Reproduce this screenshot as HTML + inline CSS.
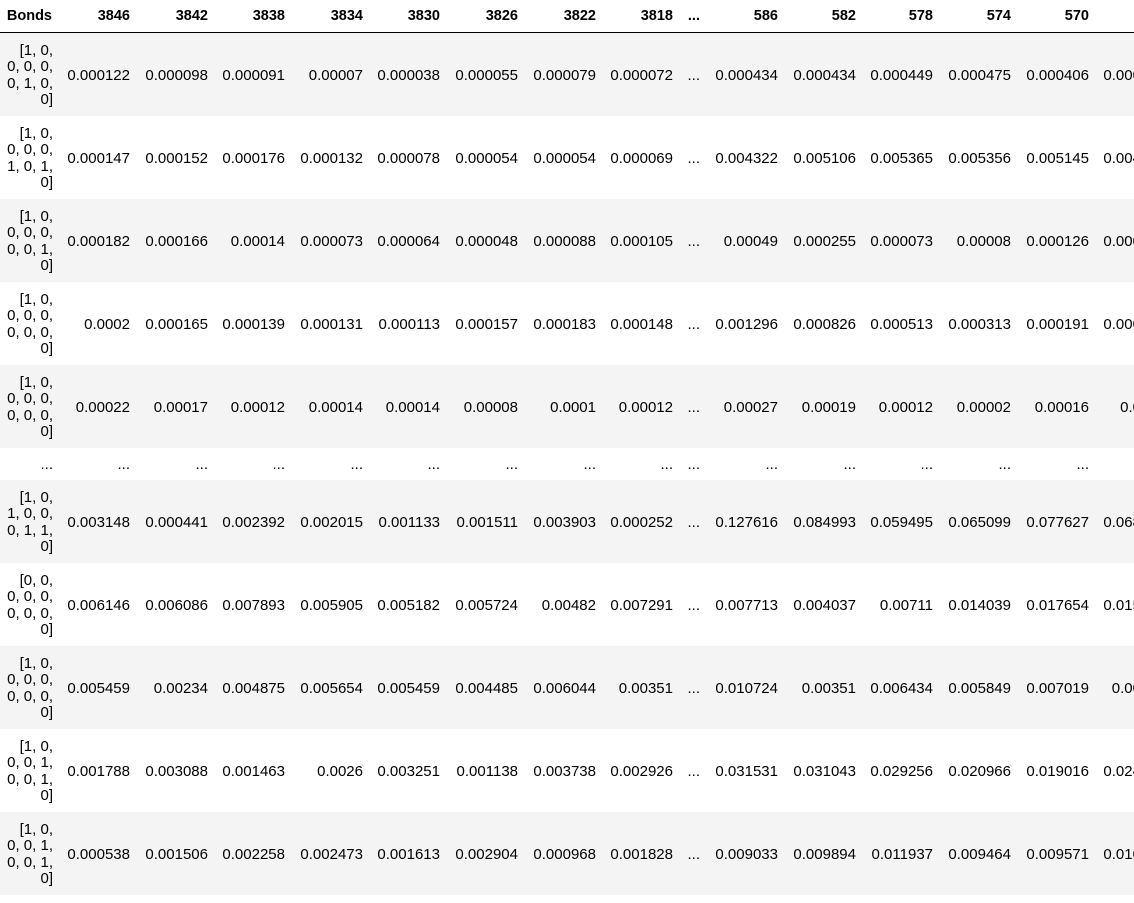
<!DOCTYPE html>
<html><head><meta charset="utf-8">
<style>
body{margin:0;width:1134px;height:903px;overflow:hidden;background:#fff;font-family:"Liberation Sans",Arial,sans-serif;color:#000;position:relative}
.c{position:absolute;white-space:nowrap;text-align:right;font-size:15px}
.h{font-weight:bold;font-size:14.5px}
.row{position:absolute;left:0;width:1134px}
.idx{position:absolute;text-align:right;font-size:15px;line-height:16.5px;right:0}
</style></head>
<body>
<div id="hline" style="position:absolute;left:0;top:32px;width:1134px;height:1px;background:#000"></div>
<script>
const headers=["3846","3842","3838","3834","3830","3826","3822","3818","...","586","582","578","574","570",""];
const rights=[130,208,285,363,440,518,596,673,700,778,856,933,1011,1089,1166];
const indexLabels=[
"[1, 0,|0, 0, 0,|0, 1, 0,|0]","[1, 0,|0, 0, 0,|1, 0, 1,|0]","[1, 0,|0, 0, 0,|0, 0, 1,|0]","[1, 0,|0, 0, 0,|0, 0, 0,|0]","[1, 0,|0, 0, 0,|0, 0, 0,|0]",
null,
"[1, 0,|1, 0, 0,|0, 1, 1,|0]","[0, 0,|0, 0, 0,|0, 0, 0,|0]","[1, 0,|0, 0, 0,|0, 0, 0,|0]","[1, 0,|0, 0, 1,|0, 0, 1,|0]","[1, 0,|0, 0, 1,|0, 0, 1,|0]"];
const values=[
["0.000122","0.000098","0.000091","0.00007","0.000038","0.000055","0.000079","0.000072","...","0.000434","0.000434","0.000449","0.000475","0.000406","0.000391"],
["0.000147","0.000152","0.000176","0.000132","0.000078","0.000054","0.000054","0.000069","...","0.004322","0.005106","0.005365","0.005356","0.005145","0.004902"],
["0.000182","0.000166","0.00014","0.000073","0.000064","0.000048","0.000088","0.000105","...","0.00049","0.000255","0.000073","0.00008","0.000126","0.000097"],
["0.0002","0.000165","0.000139","0.000131","0.000113","0.000157","0.000183","0.000148","...","0.001296","0.000826","0.000513","0.000313","0.000191","0.000142"],
["0.00022","0.00017","0.00012","0.00014","0.00014","0.00008","0.0001","0.00012","...","0.00027","0.00019","0.00012","0.00002","0.00016","0.0001"],
["...","...","...","...","...","...","...","...","...","...","...","...","...","...","..."],
["0.003148","0.000441","0.002392","0.002015","0.001133","0.001511","0.003903","0.000252","...","0.127616","0.084993","0.059495","0.065099","0.077627","0.068223"],
["0.006146","0.006086","0.007893","0.005905","0.005182","0.005724","0.00482","0.007291","...","0.007713","0.004037","0.00711","0.014039","0.017654","0.015789"],
["0.005459","0.00234","0.004875","0.005654","0.005459","0.004485","0.006044","0.00351","...","0.010724","0.00351","0.006434","0.005849","0.007019","0.00468"],
["0.001788","0.003088","0.001463","0.0026","0.003251","0.001138","0.003738","0.002926","...","0.031531","0.031043","0.029256","0.020966","0.019016","0.024123"],
["0.000538","0.001506","0.002258","0.002473","0.001613","0.002904","0.000968","0.001828","...","0.009033","0.009894","0.011937","0.009464","0.009571","0.010412"]];
const rowTops=[33,116,199,282,365,448,480,563,646,729,812];
const rowHeights=[83,83,83,83,83,32,83,83,83,83,83];
const B=document.body;
function cell(x,y,txt,cls){const d=document.createElement('div');d.className='c '+(cls||'');d.style.right=(1134-x)+'px';d.style.top=y+'px';d.textContent=txt;B.appendChild(d);return d;}
const hb=cell(52,8,"Bonds","h");


headers.forEach((h,i)=>{const d=cell(rights[i],8,h,"h");

});
values.forEach((row,r)=>{
const top=rowTops[r],hgt=rowHeights[r];
const bg=document.createElement('div');bg.className='row';bg.style.top=top+'px';bg.style.height=hgt+'px';bg.style.background=(r%2===0)?'#f4f4f4':'#fff';


B.insertBefore(bg,B.firstChild);
const mid=top+hgt/2;
if(indexLabels[r]){const ix=document.createElement('div');ix.className='idx';ix.style.position='absolute';ix.style.right=(1134-53)+'px';ix.style.top=(mid-32)+'px';ix.innerHTML=indexLabels[r].split('|').join('<br>');


B.appendChild(ix);}
else{const d=cell(53,mid-8,"...");
}
row.forEach((v,i)=>{const d=cell(rights[i],r===5?mid-8:mid-8,v);

});
});
</script>
</body></html>
